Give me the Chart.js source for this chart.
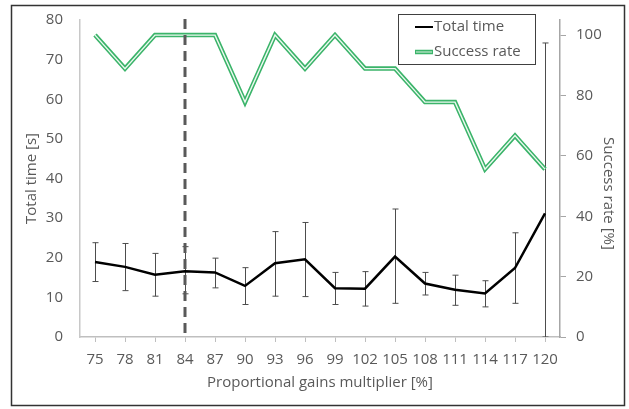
<!DOCTYPE html>
<html>
<head>
<meta charset="utf-8">
<script src="https://cdn.jsdelivr.net/npm/chart.js@4"></script>
<style>
  html, body { margin: 0; padding: 0; background: #fff; }
  #wrap { position: relative; width: 629px; height: 409px; }
</style>
</head>
<body>
<div id="wrap"><canvas id="chart"></canvas></div>
<script>
// ── Data ───────────────────────────────────────────────────────
const GAINS        = ['75', '78', '81', '84', '87', '90', '93', '96', '99', '102', '105', '108', '111', '114', '117', '120'];
const TOTAL_TIME   = [18.9, 17.7, 15.7, 16.6, 16.3, 12.9, 18.6, 19.6, 12.3, 12.2, 20.3, 13.5, 11.9, 11.0, 17.4, 31.2];
const TIME_HIGH    = [23.8, 23.6, 21.1, 22.8, 19.9, 17.5, 26.6, 28.9, 16.3, 16.5, 32.3, 16.3, 15.6, 14.2, 26.3, 74.2];
const TIME_LOW     = [14.0, 11.7, 10.3, 10.9, 12.4,  8.2, 10.3, 10.2,  8.2,  7.8,  8.5, 10.6,  8.0,  7.6,  8.5,  0.0];
const SUCCESS_RATE = [100, 88.9, 100, 100, 100, 77.8, 100, 88.9, 100, 88.9, 88.9, 77.8, 77.8, 55.6, 66.7, 55.6];
const RATE_TICKS   = [0, 20, 40, 60, 80, 100];
const MARKER_GAIN  = '84';
const RATE_TITLE   = 'Success rate [%]';

const GREEN = '#3bb46a';
const TEXT  = '#595959';
const FONT  = "'Open Sans', 'Noto Sans', sans-serif";

// ── Plugins ────────────────────────────────────────────────────

// error bars below the lines, dashed marker line above
const extras = {
  id: 'extras',
  beforeDatasetsDraw(chart) {
    const { ctx, chartArea: a, scales: { x, y } } = chart;
    ctx.save();
    ctx.beginPath();
    ctx.rect(a.left, a.top - 1, a.right - a.left, a.bottom - a.top + 1);
    ctx.clip();
    ctx.strokeStyle = '#4d4d4d';
    ctx.lineWidth = 1;
    GAINS.forEach((g, i) => {
      const px = Math.round(x.getPixelForValue(i)) + 0.5;
      const hi = y.getPixelForValue(TIME_HIGH[i]);
      const lo = y.getPixelForValue(TIME_LOW[i]);
      ctx.beginPath();
      ctx.moveTo(px, hi); ctx.lineTo(px, lo);
      ctx.moveTo(px - 3, hi); ctx.lineTo(px + 3, hi);
      ctx.moveTo(px - 3, lo); ctx.lineTo(px + 3, lo);
      ctx.stroke();
    });
    ctx.restore();
  },
  afterDatasetsDraw(chart) {
    const { ctx, chartArea: a, scales: { x } } = chart;
    const mx = Math.round(x.getPixelForValue(GAINS.indexOf(MARKER_GAIN)));
    ctx.save();
    ctx.strokeStyle = '#595959';
    ctx.lineWidth = 3;
    ctx.setLineDash([10, 6]);
    ctx.beginPath();
    ctx.moveTo(mx, a.top - 1);
    ctx.lineTo(mx, a.bottom);
    ctx.stroke();
    ctx.restore();
  },
};

// boxed legend, right axis title (Excel puts it a bit low) and outer frame
const frameLegend = {
  id: 'frameLegend',
  afterDraw(chart) {
    const { ctx, chartArea: a } = chart;
    ctx.save();
    ctx.strokeStyle = '#333';
    ctx.lineWidth = 1.5;
    ctx.strokeRect(11.5, 5.5, 613, 400);

    ctx.save();
    ctx.translate(608, (a.top + a.bottom) / 2 + 15);
    ctx.rotate(Math.PI / 2);
    ctx.font = `15px ${FONT}`;
    ctx.fillStyle = TEXT;
    ctx.textAlign = 'center';
    ctx.textBaseline = 'middle';
    ctx.fillText(RATE_TITLE, 0, 0);
    ctx.restore();

    const bx = a.right - 162, by = a.top - 6, bw = 137, bh = 50;
    ctx.fillStyle = '#fff';
    ctx.fillRect(bx, by, bw, bh);
    ctx.strokeStyle = '#404040';
    ctx.lineWidth = 1;
    ctx.strokeRect(bx + 0.5, by + 0.5, bw, bh);

    const items = [chart.data.datasets[0], chart.data.datasets[1]];
    ctx.font = `15px ${FONT}`;
    ctx.textBaseline = 'middle';
    items.forEach((ds, i) => {
      const ly = by + 13 + i * 25;
      const x0 = bx + 17, x1 = bx + 35;
      ctx.beginPath();
      ctx.moveTo(x0, ly); ctx.lineTo(x1, ly);
      ctx.strokeStyle = ds.borderColor;
      ctx.lineWidth = i === 0 ? 2 : 4.5;
      ctx.stroke();
      if (i === 1) {
        ctx.beginPath();
        ctx.moveTo(x0 + 1, ly); ctx.lineTo(x1 - 1, ly);
        ctx.strokeStyle = '#a8dcbb';
        ctx.lineWidth = 1.5;
        ctx.stroke();
      }
      ctx.fillStyle = TEXT;
      ctx.fillText(ds.label, x1 + 1, ly);
    });
    ctx.restore();
  },
};

const noVPad = s => { s.paddingTop = 0; s.paddingBottom = 0; };

// ── Chart ──────────────────────────────────────────────────────

new Chart(document.getElementById('chart'), {
  type: 'line',
  data: {
    labels: GAINS,
    datasets: [
      {
        label: 'Total time',
        data: TOTAL_TIME,
        yAxisID: 'y',
        borderColor: '#000',
        borderWidth: 2.5,
        pointRadius: 0,
        tension: 0,
        order: 2,
      },
      {
        label: 'Success rate',
        data: SUCCESS_RATE,
        yAxisID: 'y2',
        borderColor: GREEN,
        borderWidth: 4.5,
        pointRadius: 0,
        tension: 0,
        order: 1,
      },
      {
        label: 'Success rate inner',
        data: SUCCESS_RATE,
        yAxisID: 'y2',
        borderColor: '#ecf8f0',
        borderWidth: 1.4,
        pointRadius: 0,
        tension: 0,
        order: 0,
      },
    ],
  },
  options: {
    responsive: true,
    maintainAspectRatio: false,
    animation: false,
    layout: { padding: { top: 20, left: 0, right: 0, bottom: 0 } },
    plugins: { legend: { display: false }, tooltip: { enabled: false } },
    scales: {
      x: {
        offset: true,
        grid: { drawOnChartArea: false, drawTicks: true, tickLength: 5, color: '#bfbfbf' },
        border: { color: '#bfbfbf', width: 1.5 },
        ticks: { color: TEXT, font: { family: FONT, size: 15 }, padding: 9, maxRotation: 0, autoSkip: false },
        title: { display: true, text: 'Proportional gains multiplier [%]', color: TEXT,
                 font: { family: FONT, size: 15 }, padding: { top: 0, bottom: 17 } },
        afterFit: s => { s.height = 72; },
      },
      y: {
        position: 'left',
        min: 0, max: 80,
        ticks: { stepSize: 10, color: TEXT, font: { family: FONT, size: 15 }, padding: 17 },
        grid: { display: false, drawTicks: false },
        border: { color: '#c8c8c8', width: 1.5 },
        title: { display: true, text: 'Total time [s]', color: TEXT,
                 font: { family: FONT, size: 15 }, padding: { top: 23, bottom: 0 } },
        afterFit: s => { s.width = 80; noVPad(s); },
      },
      y2: {
        position: 'right',
        min: 0, max: 105,
        ticks: { color: TEXT, font: { family: FONT, size: 15 }, padding: 10 },
        afterBuildTicks: s => { s.ticks = RATE_TICKS.map(v => ({ value: v })); },
        grid: { drawOnChartArea: false, drawTicks: true, tickLength: 6, color: '#a6a6a6' },
        border: { color: '#a6a6a6', width: 1.5 },
        afterFit: s => { s.width = 69; noVPad(s); },
      },
    },
  },
  plugins: [extras, frameLegend],
});
</script>
</body>
</html>
